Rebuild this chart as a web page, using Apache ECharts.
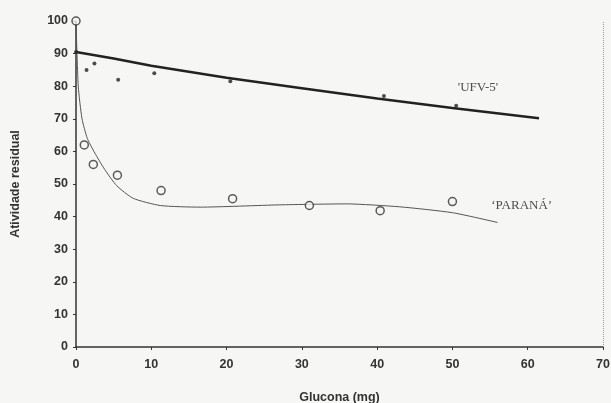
<!DOCTYPE html>
<html>
<head>
<meta charset="utf-8">
<script src="https://cdn.jsdelivr.net/npm/echarts@6/dist/echarts.min.js"></script>
<style>
  html, body { margin: 0; padding: 0; background: #f6f6f4; }
  #chart { width: 611px; height: 403px; }
</style>
</head>
<body>
<div id="chart"></div>
<script>
// Residual activity vs glucona dose, two cultivars (points + fitted curves)
const ufvPoints = [[0, 90.5], [1.4, 85], [2.45, 87], [5.6, 82], [10.4, 84], [20.5, 81.5], [40.9, 77], [50.5, 74]]
const ufvCurve = [[0, 90.5], [5, 88.5], [10, 86.3], [20, 82.6], [30, 79.4], [40, 76.2], [50, 73.3], [61.5, 70.2]]
const paranaPoints = [[0, 100], [1.1, 62], [2.3, 56], [5.5, 52.7], [11.3, 48], [20.8, 45.5], [31, 43.4], [40.4, 41.8], [50, 44.6]]
const paranaCurve = [[0, 100], [0.3, 80], [0.8, 70], [1.5, 64], [2.5, 59.5], [3.8, 54.5], [5.4, 49.5], [7.6, 45.6], [11.2, 43.4], [16.5, 42.9], [27, 43.6], [36, 43.9], [43, 43], [50, 41.2], [56, 38.2]]
const curveLabels = [
  { name: "'UFV-5'", value: [53.4, 79.7] },
  { name: '\u2018PARAN\u00c1\u2019', value: [59.2, 43.4] },
]

const AXIS = '#333'
const chart = echarts.init(document.getElementById('chart'))

chart.setOption({
  animation: false,
  backgroundColor: '#f6f6f4',
  grid: { left: 76, right: 8, top: 21, bottom: 56, containLabel: false, outerBoundsMode: 'none' },
  xAxis: {
    type: 'value', min: 0, max: 70, interval: 10,
    name: 'Glucona (mg)', nameLocation: 'middle', nameGap: 44,
    nameTextStyle: { color: '#333', fontFamily: 'Liberation Sans', fontWeight: 'bold', fontSize: 12.5 },
    axisLine: { lineStyle: { color: AXIS, width: 1.5 } },
    axisTick: { show: true, length: 3, lineStyle: { color: AXIS } },
    axisLabel: { color: '#333', fontFamily: 'Liberation Sans', fontWeight: 'bold', fontSize: 12.5, margin: 11 },
    splitLine: { show: false },
  },
  yAxis: {
    type: 'value', min: 0, max: 100, interval: 10,
    name: 'Atividade residual', nameLocation: 'middle', nameGap: 54,
    nameTextStyle: { color: '#333', fontFamily: 'Liberation Sans', fontWeight: 'bold', fontSize: 12.5 },
    axisLine: { show: true, lineStyle: { color: AXIS, width: 1.5 } },
    axisTick: { show: true, length: 3, lineStyle: { color: AXIS } },
    axisLabel: { color: '#333', fontFamily: 'Liberation Sans', fontWeight: 'bold', fontSize: 12.5, margin: 8 },
    splitLine: { show: false },
  },
  series: [
    {
      type: 'line', data: ufvCurve, showSymbol: false, smooth: false,
      lineStyle: { color: '#222', width: 2.5 }, z: 2,
      markLine: {
        silent: true, symbol: 'none', label: { show: false },
        lineStyle: { color: '#999', type: 'dotted', width: 1 },
        data: [{ xAxis: 70 }],
      },
    },
    {
      type: 'line', data: paranaCurve, showSymbol: false, smooth: 0.2,
      lineStyle: { color: '#555', width: 1 }, z: 2,
    },
    {
      type: 'scatter', data: ufvPoints, symbol: 'circle', symbolSize: 4,
      itemStyle: { color: '#222' }, z: 3,
    },
    {
      type: 'scatter', data: paranaPoints, symbol: 'circle', symbolSize: 8,
      itemStyle: { color: '#f6f6f4', borderColor: '#333', borderWidth: 1.5 }, z: 4,
    },
    {
      type: 'scatter', data: curveLabels, symbolSize: 0,
      label: {
        show: true, position: 'inside', formatter: '{b}',
        color: '#222', fontFamily: 'Liberation Serif', fontSize: 13,
      },
      z: 5,
    },
  ],
})
</script>
</body>
</html>
